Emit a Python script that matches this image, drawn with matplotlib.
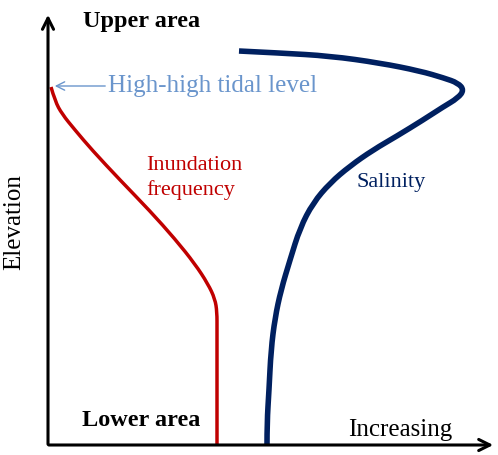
import numpy as np
import matplotlib.pyplot as plt
from matplotlib.path import Path
from matplotlib.patches import PathPatch

# 曲线数据 (图像像素坐标读取: x 向右, py 向下), 之后转换为高程 y = 455 - py
inund_x = [51, 55, 62, 75, 92, 120, 150, 175, 195, 208, 215, 217, 217, 217]
inund_py = [87, 101, 114, 130, 150, 180, 211, 239, 264, 284, 299, 312, 330, 445]
sal_x = [239, 280, 330, 380, 420, 444, 458, 464, 458, 443, 423, 397, 373, 350, 330, 313, 300,
         290, 281, 275, 271, 269, 267, 267]
sal_py = [51, 53, 56, 63, 71, 78, 83, 90, 98, 107, 120, 136, 150, 166, 183, 203, 228,
          260, 290, 318, 350, 390, 423, 445]

inund_y = [455 - v for v in inund_py]
sal_y = [455 - v for v in sal_py]


def smooth_path(xs, ys):
    # 用二次贝塞尔曲线平滑连接读取的点
    pts = np.column_stack([xs, ys]).astype(float)
    verts = [pts[0]]
    codes = [Path.MOVETO]
    for i in range(1, len(pts) - 1):
        end = pts[i + 1] if i == len(pts) - 2 else (pts[i] + pts[i + 1]) / 2
        verts += [pts[i], end]
        codes += [Path.CURVE3, Path.CURVE3]
    return Path(verts, codes)


plt.rcParams['font.family'] = ['Liberation Serif', 'DejaVu Serif']
fig = plt.figure(figsize=(4.98, 4.55), dpi=100)
ax = fig.add_axes([0, 0, 1, 1])
ax.set_xlim(0, 498)
ax.set_ylim(0, 455)
ax.axis('off')

# 坐标轴箭头
ax.annotate('', xy=(48, 443), xytext=(48, 8),
            arrowprops=dict(arrowstyle='->,head_length=0.8,head_width=0.4', lw=2.2, color='black'))
ax.annotate('', xy=(496, 10), xytext=(46, 10),
            arrowprops=dict(arrowstyle='->,head_length=0.8,head_width=0.4', lw=2.2, color='black'))

ax.add_patch(PathPatch(smooth_path(inund_x, inund_y), fill=False, edgecolor='#C00000', lw=2.5,
                       capstyle='butt', joinstyle='round'))
ax.add_patch(PathPatch(smooth_path(sal_x, sal_y), fill=False, edgecolor='#002060', lw=4.0,
                       capstyle='butt', joinstyle='round'))

ax.annotate('', xy=(52, 369), xytext=(108, 369),
            arrowprops=dict(arrowstyle='->,head_length=0.6,head_width=0.3', lw=1, color='#6A95CC'))
ax.text(108, 369, 'High-high tidal level', color='#6A95CC', fontsize=18, va='center', ha='left')

ax.text(83, 433, 'Upper area', fontsize=17.5, fontweight='bold', va='center', ha='left')
ax.text(82, 35, 'Lower area', fontsize=17.5, fontweight='bold', va='center', ha='left')
ax.text(348, 25, 'Increasing', fontsize=18, va='center', ha='left')
ax.text(14, 233, 'Elevation', fontsize=18, va='center', ha='center', rotation=90)
ax.text(146, 290, 'Inundation', color='#C00000', fontsize=16, va='center', ha='left')
ax.text(146, 265, 'frequency', color='#C00000', fontsize=16, va='center', ha='left')
ax.text(357, 273, 'Salinity', color='#002060', fontsize=16, va='center', ha='left')

fig.savefig('out.png', dpi=100)
